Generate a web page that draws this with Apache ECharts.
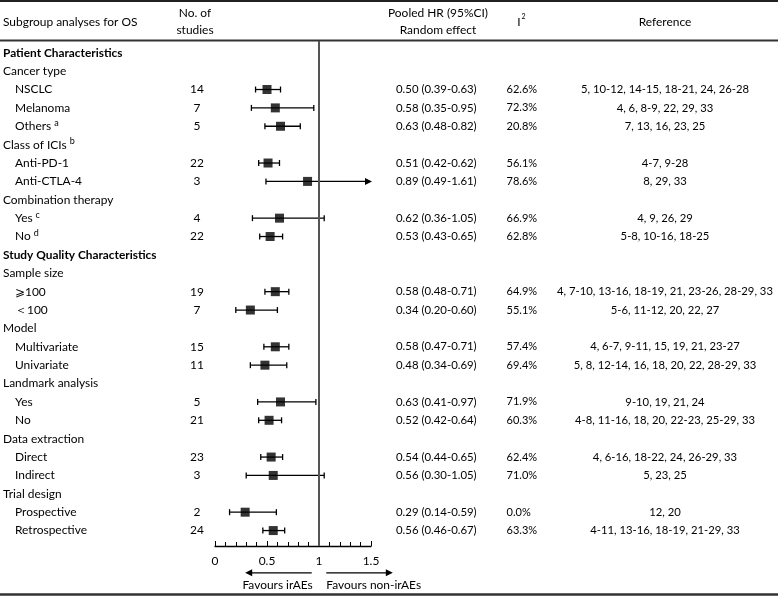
<!DOCTYPE html>
<html><head><meta charset="utf-8">
<script src="https://cdn.jsdelivr.net/npm/echarts@6/dist/echarts.min.js"></script>
<style>html,body{margin:0;padding:0;background:#fff}#c{width:778px;height:596px}</style>
</head><body><div id="c"></div>
<script>
// ---- data ----
const rowLabels = ['Patient Characteristics','Cancer type','NSCLC','Melanoma','Others','Class of ICIs','Anti-PD-1','Anti-CTLA-4',
  'Combination therapy','Yes','No','Study Quality Characteristics','Sample size','\u2A7E100','\uFF1C100','Model','Multivariate','Univariate',
  'Landmark analysis','Yes','No','Data extraction','Direct','Indirect','Trial design','Prospective','Retrospective'];
const rowKinds = ['section','group','item','item','item','group','item','item',
  'group','item','item','section','group','item','item','group','item','item',
  'group','item','item','group','item','item','group','item','item'];
const footnotes = [null,null,null,null,'a','b',null,null,null,'c','d',null,null,null,null,null,null,null,null,null,null,null,null,null,null,null,null];
const studies = [null,null,14,7,5,null,22,3,null,4,22,null,null,19,7,null,15,11,null,5,21,null,23,3,null,2,24];
const hrValues = [null,null,0.50,0.58,0.63,null,0.51,0.89,null,0.62,0.53,null,null,0.58,0.34,null,0.58,0.48,null,0.63,0.52,null,0.54,0.56,null,0.29,0.56];
const ciLow  = [null,null,0.39,0.35,0.48,null,0.42,0.49,null,0.36,0.43,null,null,0.48,0.20,null,0.47,0.34,null,0.41,0.42,null,0.44,0.30,null,0.14,0.46];
const ciHigh = [null,null,0.63,0.95,0.82,null,0.62,1.61,null,1.05,0.65,null,null,0.71,0.60,null,0.71,0.69,null,0.97,0.64,null,0.65,1.05,null,0.59,0.67];
const i2Values = [null,null,'62.6%','72.3%','20.8%',null,'56.1%','78.6%',null,'66.9%','62.8%',null,null,'64.9%','55.1%',null,'57.4%','69.4%',null,'71.9%','60.3%',null,'62.4%','71.0%',null,'0.0%','63.3%'];
const references = [null,null,'5, 10-12, 14-15, 18-21, 24, 26-28','4, 6, 8-9, 22, 29, 33','7, 13, 16, 23, 25',null,'4-7, 9-28','8, 29, 33',null,
  '4, 9, 26, 29','5-8, 10-16, 18-25',null,null,'4, 7-10, 13-16, 18-19, 21, 23-26, 28-29, 33','5-6, 11-12, 20, 22, 27',null,
  '4, 6-7, 9-11, 15, 19, 21, 23-27','5, 8, 12-14, 16, 18, 20, 22, 28-29, 33',null,'9-10, 19, 21, 24','4-8, 11-16, 18, 20, 22-23, 25-29, 33',null,
  '4, 6-16, 18-22, 24, 26-29, 33','5, 23, 25',null,'12, 20','4-11, 13-16, 18-19, 21-29, 33'];
const xTicks = [0, 0.5, 1, 1.5];
const xMax = 1.5;

// ---- font fitting (match column text widths of the reference) ----
const FONT = 'Lato, "Noto Sans", sans-serif';
const mctx = document.createElement('canvas').getContext('2d');
function fit(str, target, weight){
  mctx.font = (weight || 'normal') + ' 100px ' + FONT;
  return +(100 * target / mctx.measureText(str).width).toFixed(2);
}
const FS_LAB = Math.min(14, fit('Subgroup analyses for OS', 134.5));
const FS_HR  = Math.min(14, fit('0.50 (0.39-0.63)', 80.7));
const FS_I2  = Math.min(14, fit('62.6%', 30.6));
const FS_REF = Math.min(14, fit('4, 7-10, 13-16, 18-19, 21, 23-26, 28-29, 33', 216));
const FS_SEC = Math.min(14, fit('Patient Characteristics', 119.5, 'bold'));

// ---- chart ----
const chart = echarts.init(document.getElementById('c'), null, {renderer:'canvas'});
const rowIdx = rowLabels.map((_, i) => i);
const itemRows = rowIdx.filter(i => hrValues[i] != null);
function fmt(v){ return v.toFixed(2); }
function ctext(x, y, t, fs){ return {type: 'text', x: x, y: y, style: {text: t, fontFamily: FONT, fontSize: fs, fill: '#000', align: 'center', verticalAlign: 'middle'}}; }

const option = {
  animation: false,
  grid: {left: 215, width: 156, top: 41, height: 505},
  xAxis: {
    type: 'value', min: xTicks[0], max: xMax, interval: 0.5,
    axisLine: {show: true, onZero: false, lineStyle: {color: '#000', width: 1.3}},
    axisTick: {show: true, inside: true, length: 5, lineStyle: {color: '#000', width: 1}},
    minorTick: {show: true, splitNumber: 5, length: 4, lineStyle: {color: '#000', width: 1}},
    axisLabel: {color: '#000', fontFamily: FONT, fontSize: FS_LAB, margin: 9,
      formatter: v => xTicks.includes(v) ? String(v) : ''},
    splitLine: {show: false}
  },
  yAxis: {type: 'value', inverse: true, min: -0.64, max: 26.84, show: false},
  graphic: [
    {type: 'line', shape: {x1: 0, y1: 1, x2: 778, y2: 1}, style: {stroke: '#222', lineWidth: 2}},
    {type: 'line', shape: {x1: 0, y1: 40.5, x2: 778, y2: 40.5}, style: {stroke: '#333', lineWidth: 2}},
    {type: 'line', shape: {x1: 0, y1: 594.5, x2: 778, y2: 594.5}, style: {stroke: '#333', lineWidth: 2.5}},
    {type: 'text', x: 3, y: 22, style: {text: 'Subgroup analyses for OS', fontFamily: FONT, fontSize: FS_LAB, fill: '#000', align: 'left', verticalAlign: 'middle'}},
    ctext(195, 13, 'No. of', FS_LAB),
    ctext(195, 30, 'studies', FS_LAB),
    ctext(438, 13, 'Pooled HR (95%CI)', FS_LAB),
    ctext(438, 30, 'Random effect', FS_LAB),
    ctext(519, 22, 'I', FS_LAB),
    ctext(523.5, 17, '2', 7),
    ctext(665, 22, 'Reference', FS_LAB)
  ],
  series: [
    // table text
    {
      type: 'custom', clip: false, silent: true, z: 5,
      data: rowIdx.map(i => [0, i]),
      renderItem: function(params, api){
        const i = api.value(1);
        const y = api.coord([0, i])[1];
        const kind = rowKinds[i];
        const children = [];
        const x0 = kind === 'item' ? 15 : 3;
        let txt = rowLabels[i];
        const rich = {sup: {fontSize: 9, fontFamily: FONT, fill: '#000', padding: [0,0,7,3]}};
        if (footnotes[i]) txt = txt + '{sup|' + footnotes[i] + '}';
        children.push({type: 'text', x: x0, y: y, style: {
          text: txt, rich: rich, fontFamily: FONT, fontSize: kind === 'section' ? FS_SEC : FS_LAB, fontWeight: kind === 'section' ? 'bold' : 'normal',
          fill: '#000', verticalAlign: 'middle', align: 'left'}});
        if (studies[i] != null) {
          children.push(ctext(197, y, String(studies[i]), FS_LAB));
          children.push({type: 'text', x: 396, y: y, style: {text: fmt(hrValues[i]) + ' (' + fmt(ciLow[i]) + '-' + fmt(ciHigh[i]) + ')', fontFamily: FONT, fontSize: FS_HR, fill: '#000', align: 'left', verticalAlign: 'middle'}});
          children.push({type: 'text', x: 506.5, y: y, style: {text: i2Values[i], fontFamily: FONT, fontSize: FS_I2, fill: '#000', align: 'left', verticalAlign: 'middle'}});
          children.push(ctext(665, y, references[i], FS_REF));
        }
        return {type: 'group', children: children};
      }
    },
    // confidence intervals
    {
      type: 'custom', clip: false, silent: true, z: 3,
      data: itemRows.map(i => [ciLow[i], ciHigh[i], i]),
      encode: {x: [0, 1], y: 2},
      renderItem: function(params, api){
        const lo = api.value(0), hi = api.value(1), i = api.value(2);
        const trunc = hi > xMax;
        const p1 = api.coord([lo, i]);
        const p2 = api.coord([Math.min(hi, xMax), i]);
        const st = {stroke: '#000', lineWidth: 1.3};
        const ch = [
          {type: 'line', shape: {x1: p1[0], y1: p1[1], x2: trunc ? p2[0] - 4 : p2[0], y2: p2[1]}, style: st},
          {type: 'line', shape: {x1: p1[0], y1: p1[1] - 3, x2: p1[0], y2: p1[1] + 3}, style: st}
        ];
        if (trunc) {
          ch.push({type: 'polygon', shape: {points: [[p2[0] - 6, p2[1] - 3.5], [p2[0] + 1, p2[1]], [p2[0] - 6, p2[1] + 3.5]]}, style: {fill: '#000'}});
        } else {
          ch.push({type: 'line', shape: {x1: p2[0], y1: p2[1] - 3, x2: p2[0], y2: p2[1] + 3}, style: st});
        }
        return {type: 'group', children: ch};
      }
    },
    // point estimates
    {
      type: 'scatter', z: 4, symbol: 'rect', symbolSize: 9, silent: true,
      itemStyle: {color: '#000'},
      data: itemRows.map(i => [hrValues[i], i]),
      markLine: {
        silent: true, symbol: ['none', 'none'], label: {show: false},
        lineStyle: {color: '#555', width: 2, type: 'solid'},
        data: [{xAxis: 1}]
      }
    },
    // favours annotation
    {
      type: 'custom', clip: false, silent: true, z: 5,
      data: [[1, 28.3]],
      renderItem: function(params, api){
        const yA = api.coord([0, 28.3])[1];
        const yT = api.coord([0, 28.98])[1];
        const l1 = api.coord([0.93, 0])[0], l2 = api.coord([0.29, 0])[0];
        const r1 = api.coord([1.07, 0])[0], r2 = api.coord([1.71, 0])[0];
        const st = {stroke: '#000', lineWidth: 1.3};
        return {type: 'group', children: [
          {type: 'line', shape: {x1: l1, y1: yA, x2: l2 + 5, y2: yA}, style: st},
          {type: 'polygon', shape: {points: [[l2, yA], [l2 + 7, yA - 3.5], [l2 + 7, yA + 3.5]]}, style: {fill: '#000'}},
          {type: 'line', shape: {x1: r1, y1: yA, x2: r2 - 5, y2: yA}, style: st},
          {type: 'polygon', shape: {points: [[r2, yA], [r2 - 7, yA - 3.5], [r2 - 7, yA + 3.5]]}, style: {fill: '#000'}},
          {type: 'text', x: l1 + 1, y: yT, style: {text: 'Favours irAEs', fontFamily: FONT, fontSize: FS_LAB, fill: '#000', align: 'right', verticalAlign: 'middle'}},
          {type: 'text', x: r1, y: yT, style: {text: 'Favours non-irAEs', fontFamily: FONT, fontSize: FS_LAB, fill: '#000', align: 'left', verticalAlign: 'middle'}}
        ]};
      }
    }
  ]
};
chart.setOption(option);
</script>
</body></html>
